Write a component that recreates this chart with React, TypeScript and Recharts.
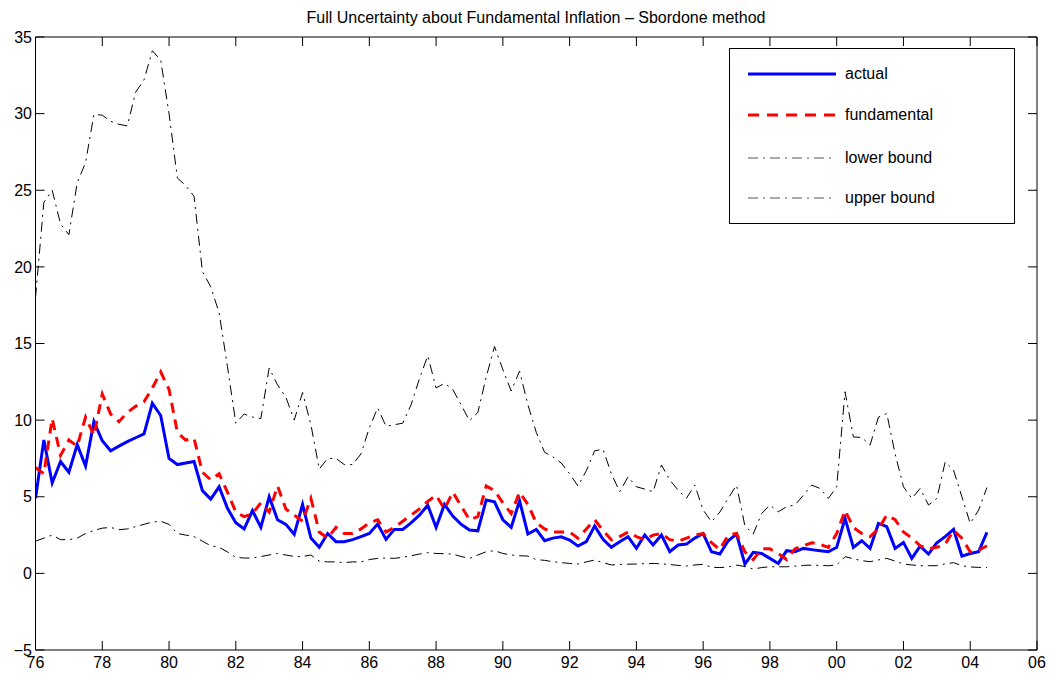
import React from "react";
import { LineChart, Line, XAxis, YAxis } from "recharts";

// quarterly observations, 1976Q1 .. 2004Q3
const QUARTERS = Array.from({ length: 115 }, (_, i) => 76 + i * 0.25);

const ACTUAL = [
  4.9, 8.7, 5.9, 7.3, 6.6, 8.4, 7.0, 9.9, 8.65, 8.0,
  8.3, 8.6, 8.85, 9.1, 11.1, 10.3, 7.5, 7.1, 7.2, 7.3,
  5.4, 4.85, 5.65, 4.25, 3.3, 2.9, 4.1, 3.0, 5.0, 3.5,
  3.2, 2.55, 4.5, 2.3, 1.7, 2.6, 2.07, 2.07, 2.2, 2.4,
  2.6, 3.22, 2.22, 2.87, 2.87, 3.3, 3.8, 4.45, 3.0, 4.5,
  3.74, 3.2, 2.83, 2.78, 4.78, 4.67, 3.5, 3.0, 4.74, 2.57,
  2.87, 2.13, 2.3, 2.39, 2.17, 1.78, 2.07, 3.09, 2.22, 1.7,
  2.07, 2.39, 1.63, 2.5, 1.85, 2.5, 1.41, 1.85, 1.91, 2.3,
  2.6, 1.41, 1.26, 2.13, 2.57, 0.61, 1.37, 1.3, 0.98, 0.65,
  1.48, 1.41, 1.63, 1.55, 1.48, 1.41, 1.7, 3.59, 1.7, 2.13,
  1.63, 3.26, 3.05, 1.63, 2.02, 0.98, 1.78, 1.26, 2.0, 2.4,
  2.87, 1.13, 1.3, 1.41, 2.67,
];

const FUNDAMENTAL = [
  6.9, 6.5, 10.1, 7.7, 8.7, 8.3, 10.2, 9.0, 11.7, 10.4,
  9.9, 10.5, 10.9, 11.2, 12.1, 13.15, 12.0, 9.2, 8.7, 8.8,
  6.6, 6.1, 6.5, 5.3, 4.0, 3.7, 3.9, 4.6, 4.0, 5.7,
  4.2, 3.8, 3.4, 4.9, 2.7, 2.3, 3.0, 2.6, 2.6, 2.9,
  3.3, 3.5, 2.7, 3.0, 3.4, 3.8, 4.2, 4.7, 5.1, 4.2,
  5.3, 4.4, 3.5, 3.7, 5.7, 5.4, 4.6, 3.9, 5.3, 4.5,
  3.3, 2.9, 2.7, 2.7, 2.7, 2.3, 2.9, 3.5, 2.8, 2.2,
  2.4, 2.7, 2.4, 2.2, 2.5, 2.6, 2.2, 2.1, 2.3, 2.5,
  2.6, 2.0, 1.55, 2.5, 2.6, 1.4, 0.9, 1.6, 1.6, 1.3,
  0.9, 1.6, 1.8, 2.0, 1.9, 1.7, 2.6, 4.1, 3.0, 2.6,
  2.4, 2.9, 3.8, 3.5, 2.7, 2.3, 1.8, 1.6, 1.7, 1.9,
  2.8, 2.3, 1.4, 1.5, 1.8,
];

const LOWER = [
  2.1, 2.3, 2.5, 2.2, 2.2, 2.3, 2.6, 2.8, 2.95, 3.0,
  2.85, 2.9, 3.05, 3.2, 3.35, 3.4, 3.2, 2.6, 2.5, 2.4,
  2.1, 1.8, 1.7, 1.4, 1.05, 1.0, 1.0, 1.1, 1.2, 1.3,
  1.2, 1.1, 1.1, 1.2, 0.8, 0.75, 0.75, 0.7, 0.75, 0.75,
  0.9, 0.98, 1.0, 0.98, 1.05, 1.15, 1.26, 1.35, 1.3, 1.28,
  1.26, 1.1, 0.98, 1.2, 1.41, 1.48, 1.3, 1.2, 1.15, 1.13,
  0.9, 0.85, 0.76, 0.7, 0.65, 0.61, 0.75, 0.87, 0.7, 0.55,
  0.58, 0.6, 0.61, 0.63, 0.65, 0.62, 0.58, 0.52, 0.48, 0.55,
  0.59, 0.4, 0.38, 0.42, 0.54, 0.45, 0.28, 0.38, 0.43, 0.43,
  0.43, 0.48, 0.52, 0.54, 0.52, 0.5, 0.55, 1.09, 0.95, 0.83,
  0.76, 0.88, 0.98, 0.8, 0.61, 0.55, 0.5, 0.5, 0.5, 0.62,
  0.7, 0.5, 0.42, 0.39, 0.38,
];

const UPPER = [
  18.0, 24.2, 25.0, 22.8, 22.1, 25.5, 26.8, 29.95, 29.9, 29.5,
  29.3, 29.2, 31.4, 32.2, 34.1, 33.5, 30.0, 25.8, 25.3, 24.6,
  19.7, 18.7, 17.0, 13.5, 9.8, 10.4, 10.2, 10.1, 13.4, 12.3,
  11.5, 10.0, 11.8, 9.7, 6.8, 7.5, 7.5, 7.1, 7.1, 7.8,
  9.5, 10.8, 9.6, 9.7, 9.8, 11.0, 12.7, 14.2, 12.1, 12.4,
  12.0, 11.0, 9.96, 10.5, 12.8, 14.8, 13.3, 11.9, 13.2, 11.0,
  9.2, 7.9, 7.6, 7.2, 6.5, 5.7, 6.7, 8.0, 8.1, 6.5,
  5.33, 6.3, 5.65, 5.5, 5.33, 7.07, 6.09, 5.43, 4.9, 5.76,
  4.13, 3.37, 4.0, 4.9, 5.76, 3.1, 2.57, 3.9, 4.46, 4.02,
  4.35, 4.46, 5.1, 5.76, 5.54, 4.89, 5.65, 11.85, 8.9, 8.87,
  8.37, 10.2, 10.43, 7.8, 5.65, 4.89, 5.54, 4.46, 4.89, 7.28,
  6.74, 5.0, 3.26, 4.13, 5.6,
];

const X_TICKS = [76, 78, 80, 82, 84, 86, 88, 90, 92, 94, 96, 98, 100, 102, 104, 106];
const Y_TICKS = [-5, 0, 5, 10, 15, 20, 25, 30, 35];

const FONT = '"Liberation Sans", Arial, Helvetica, sans-serif';
const DASH_DOT = "10 5 2 5";

const data = QUARTERS.map((t, i) => ({
  t,
  actual: ACTUAL[i],
  fundamental: FUNDAMENTAL[i],
  lower: LOWER[i],
  upper: UPPER[i],
}));

const yearLabel = (v: number) => String(v % 100).padStart(2, "0");
const yLabel = (v: number) => (v < 0 ? "\u2212" + Math.abs(v) : String(v));
const blank = () => "";

const tickStyle = { fontSize: 16, fill: "#000", fontFamily: FONT };

const LEGEND = [
  { name: "actual", stroke: "#0000ff", width: 3, dash: undefined as string | undefined },
  { name: "fundamental", stroke: "#ff0000", width: 3, dash: "11 8" },
  { name: "lower bound", stroke: "#555", width: 1, dash: DASH_DOT },
  { name: "upper bound", stroke: "#555", width: 1, dash: DASH_DOT },
];

function LegendBox() {
  const rows = [25, 66, 109, 149];
  return (
    <div
      style={{
        position: "absolute",
        left: 729,
        top: 48,
        width: 284,
        height: 174,
        border: "1px solid #000",
        background: "#fff",
        fontFamily: FONT,
        fontSize: 16,
      }}
    >
      {LEGEND.map((l, i) => (
        <div key={l.name} style={{ position: "absolute", left: 0, top: rows[i] - 10, height: 20, width: 284 }}>
          <svg width={110} height={20} style={{ position: "absolute", left: 0, top: 0 }}>
            <line x1={18} x2={106} y1={10} y2={10} stroke={l.stroke} strokeWidth={l.width} strokeDasharray={l.dash} />
          </svg>
          <span style={{ position: "absolute", left: 115, top: 0, lineHeight: "20px" }}>{l.name}</span>
        </div>
      ))}
    </div>
  );
}

export default function App() {
  return (
    <div style={{ position: "absolute", left: 0, top: 0, width: 1055, height: 677, background: "#fff" }}>
      <div
        style={{
          position: "absolute",
          left: 35,
          top: 8,
          width: 1002,
          textAlign: "center",
          fontFamily: FONT,
          fontSize: 16,
          lineHeight: "20px",
        }}
      >
        Full Uncertainty about Fundamental Inflation – Sbordone method
      </div>
      <LineChart width={1055} height={677} data={data} margin={{ top: 0, right: 0, bottom: 0, left: 0 }}>
        <XAxis
          xAxisId="b"
          dataKey="t"
          type="number"
          domain={[76, 106]}
          allowDataOverflow
          ticks={X_TICKS}
          tickFormatter={yearLabel}
          height={27}
          stroke="#000"
          tickSize={-9}
          tickMargin={16}
          tick={tickStyle}
          interval={0}
        />
        <XAxis
          xAxisId="top"
          orientation="top"
          dataKey="t"
          type="number"
          domain={[76, 106]}
          allowDataOverflow
          ticks={X_TICKS}
          tickFormatter={blank}
          height={37}
          stroke="#000"
          tickSize={-9}
          interval={0}
        />
        <YAxis
          yAxisId="l"
          type="number"
          domain={[-5, 35]}
          allowDataOverflow
          ticks={Y_TICKS}
          tickFormatter={yLabel}
          width={35.5}
          stroke="#000"
          tickSize={-9}
          tickMargin={12.5}
          tick={tickStyle}
          interval={0}
        />
        <YAxis
          yAxisId="r"
          orientation="right"
          type="number"
          domain={[-5, 35]}
          allowDataOverflow
          ticks={Y_TICKS}
          tickFormatter={blank}
          width={18}
          stroke="#000"
          tickSize={-9}
          interval={0}
        />
        <Line xAxisId="b" yAxisId="l" type="linear" dataKey="actual" stroke="#0000ff" strokeWidth={3} dot={false} isAnimationActive={false} />
        <Line xAxisId="b" yAxisId="l" type="linear" dataKey="fundamental" stroke="#ff0000" strokeWidth={3} strokeDasharray="10 7" dot={false} isAnimationActive={false} />
        <Line xAxisId="b" yAxisId="l" type="linear" dataKey="lower" stroke="#000" strokeWidth={1} strokeDasharray={DASH_DOT} dot={false} isAnimationActive={false} />
        <Line xAxisId="b" yAxisId="l" type="linear" dataKey="upper" stroke="#000" strokeWidth={1} strokeDasharray={DASH_DOT} dot={false} isAnimationActive={false} />
      </LineChart>
      <LegendBox />
    </div>
  );
}
